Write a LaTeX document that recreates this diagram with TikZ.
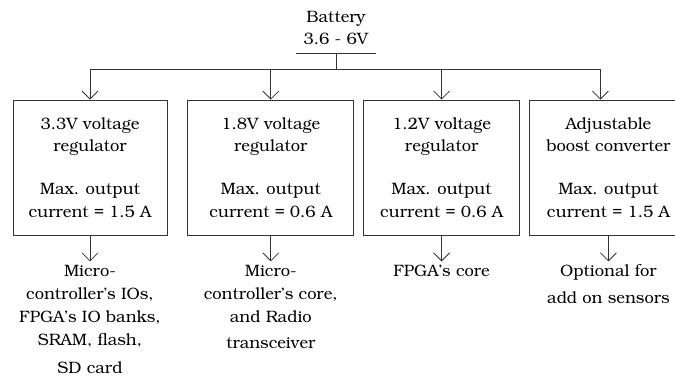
\documentclass[tikz,border=0pt]{standalone}
\usepackage[T1]{fontenc}
\usepackage{bookman}
\usetikzlibrary{positioning, arrows.meta}

\begin{document}
\begin{tikzpicture}[x=1pt, y=1pt,
    reg/.style={draw=black!80, line width=0.8pt, minimum height=135pt, align=center, inner sep=0pt},
    load/.style={align=center, inner sep=3pt, font=\fontsize{16.5}{23}\selectfont},
    arr/.style={-{Straight Barb[length=8pt, width=16pt]}, draw=black!80, line width=0.8pt},
    wire/.style={draw=black!80, line width=0.8pt},
    every node/.style={font=\fontsize{16.5}{22.5}\selectfont}
]
\useasboundingbox (0,0) rectangle (675,376);

% Battery
\node[anchor=south, minimum width=80pt, inner xsep=0pt, inner ysep=8pt, align=center] (batt) at (336,323) {Battery\\3.6 - 6V};
\draw[wire] (batt.south west) -- (batt.south east);

% Regulators
\node[reg, minimum width=154pt] (reg33) at (90,208.5) {3.3V voltage\\regulator\\[20.5pt]Max. output\\current = 1.5 A};
\node[reg, minimum width=166pt, right=20pt of reg33] (reg18) {1.8V voltage\\regulator\\[20.5pt]Max. output\\current = 0.6 A};
\node[reg, minimum width=156pt, right=9pt of reg18] (reg12) {1.2V voltage\\regulator\\[20.5pt]Max. output\\current = 0.6 A};
\node[reg, minimum width=158pt, right=9pt of reg12] (boost) {Adjustable\\boost converter\\[20.5pt]Max. output\\current = 1.5 A};

% Distribution from battery
\coordinate (bus) at (0,307);
\draw[wire] (batt.south) -- (batt.south |- bus);
\draw[arr] (batt.south |- bus) -| (reg33.north);
\draw[arr] (batt.south |- bus) -| (reg18.north);
\draw[arr] (batt.south |- bus) -| (reg12.north);
\draw[arr] (batt.south |- bus) -| ([xshift=-8pt]boost.north);

% Loads
\node[load, below=26pt of reg33] (io33) {Micro-\\controller's IOs,\\FPGA's IO banks,\\SRAM, flash,\\[5pt]SD card};
\node[load, below=26pt of reg18] (core18) {Micro-\\controller's core,\\and Radio\\[3pt]transceiver};
\node[load, below=26pt of reg12] (core12) {FPGA's core};
\node[load, below=26pt of boost] (sens) {Optional for\\[4pt]add on sensors};

\draw[arr] (reg33) -- (io33);
\draw[arr] (reg18) -- (core18);
\draw[arr] (reg12) -- (core12);
\draw[arr] (boost) -- (sens);

\end{tikzpicture}
\end{document}
